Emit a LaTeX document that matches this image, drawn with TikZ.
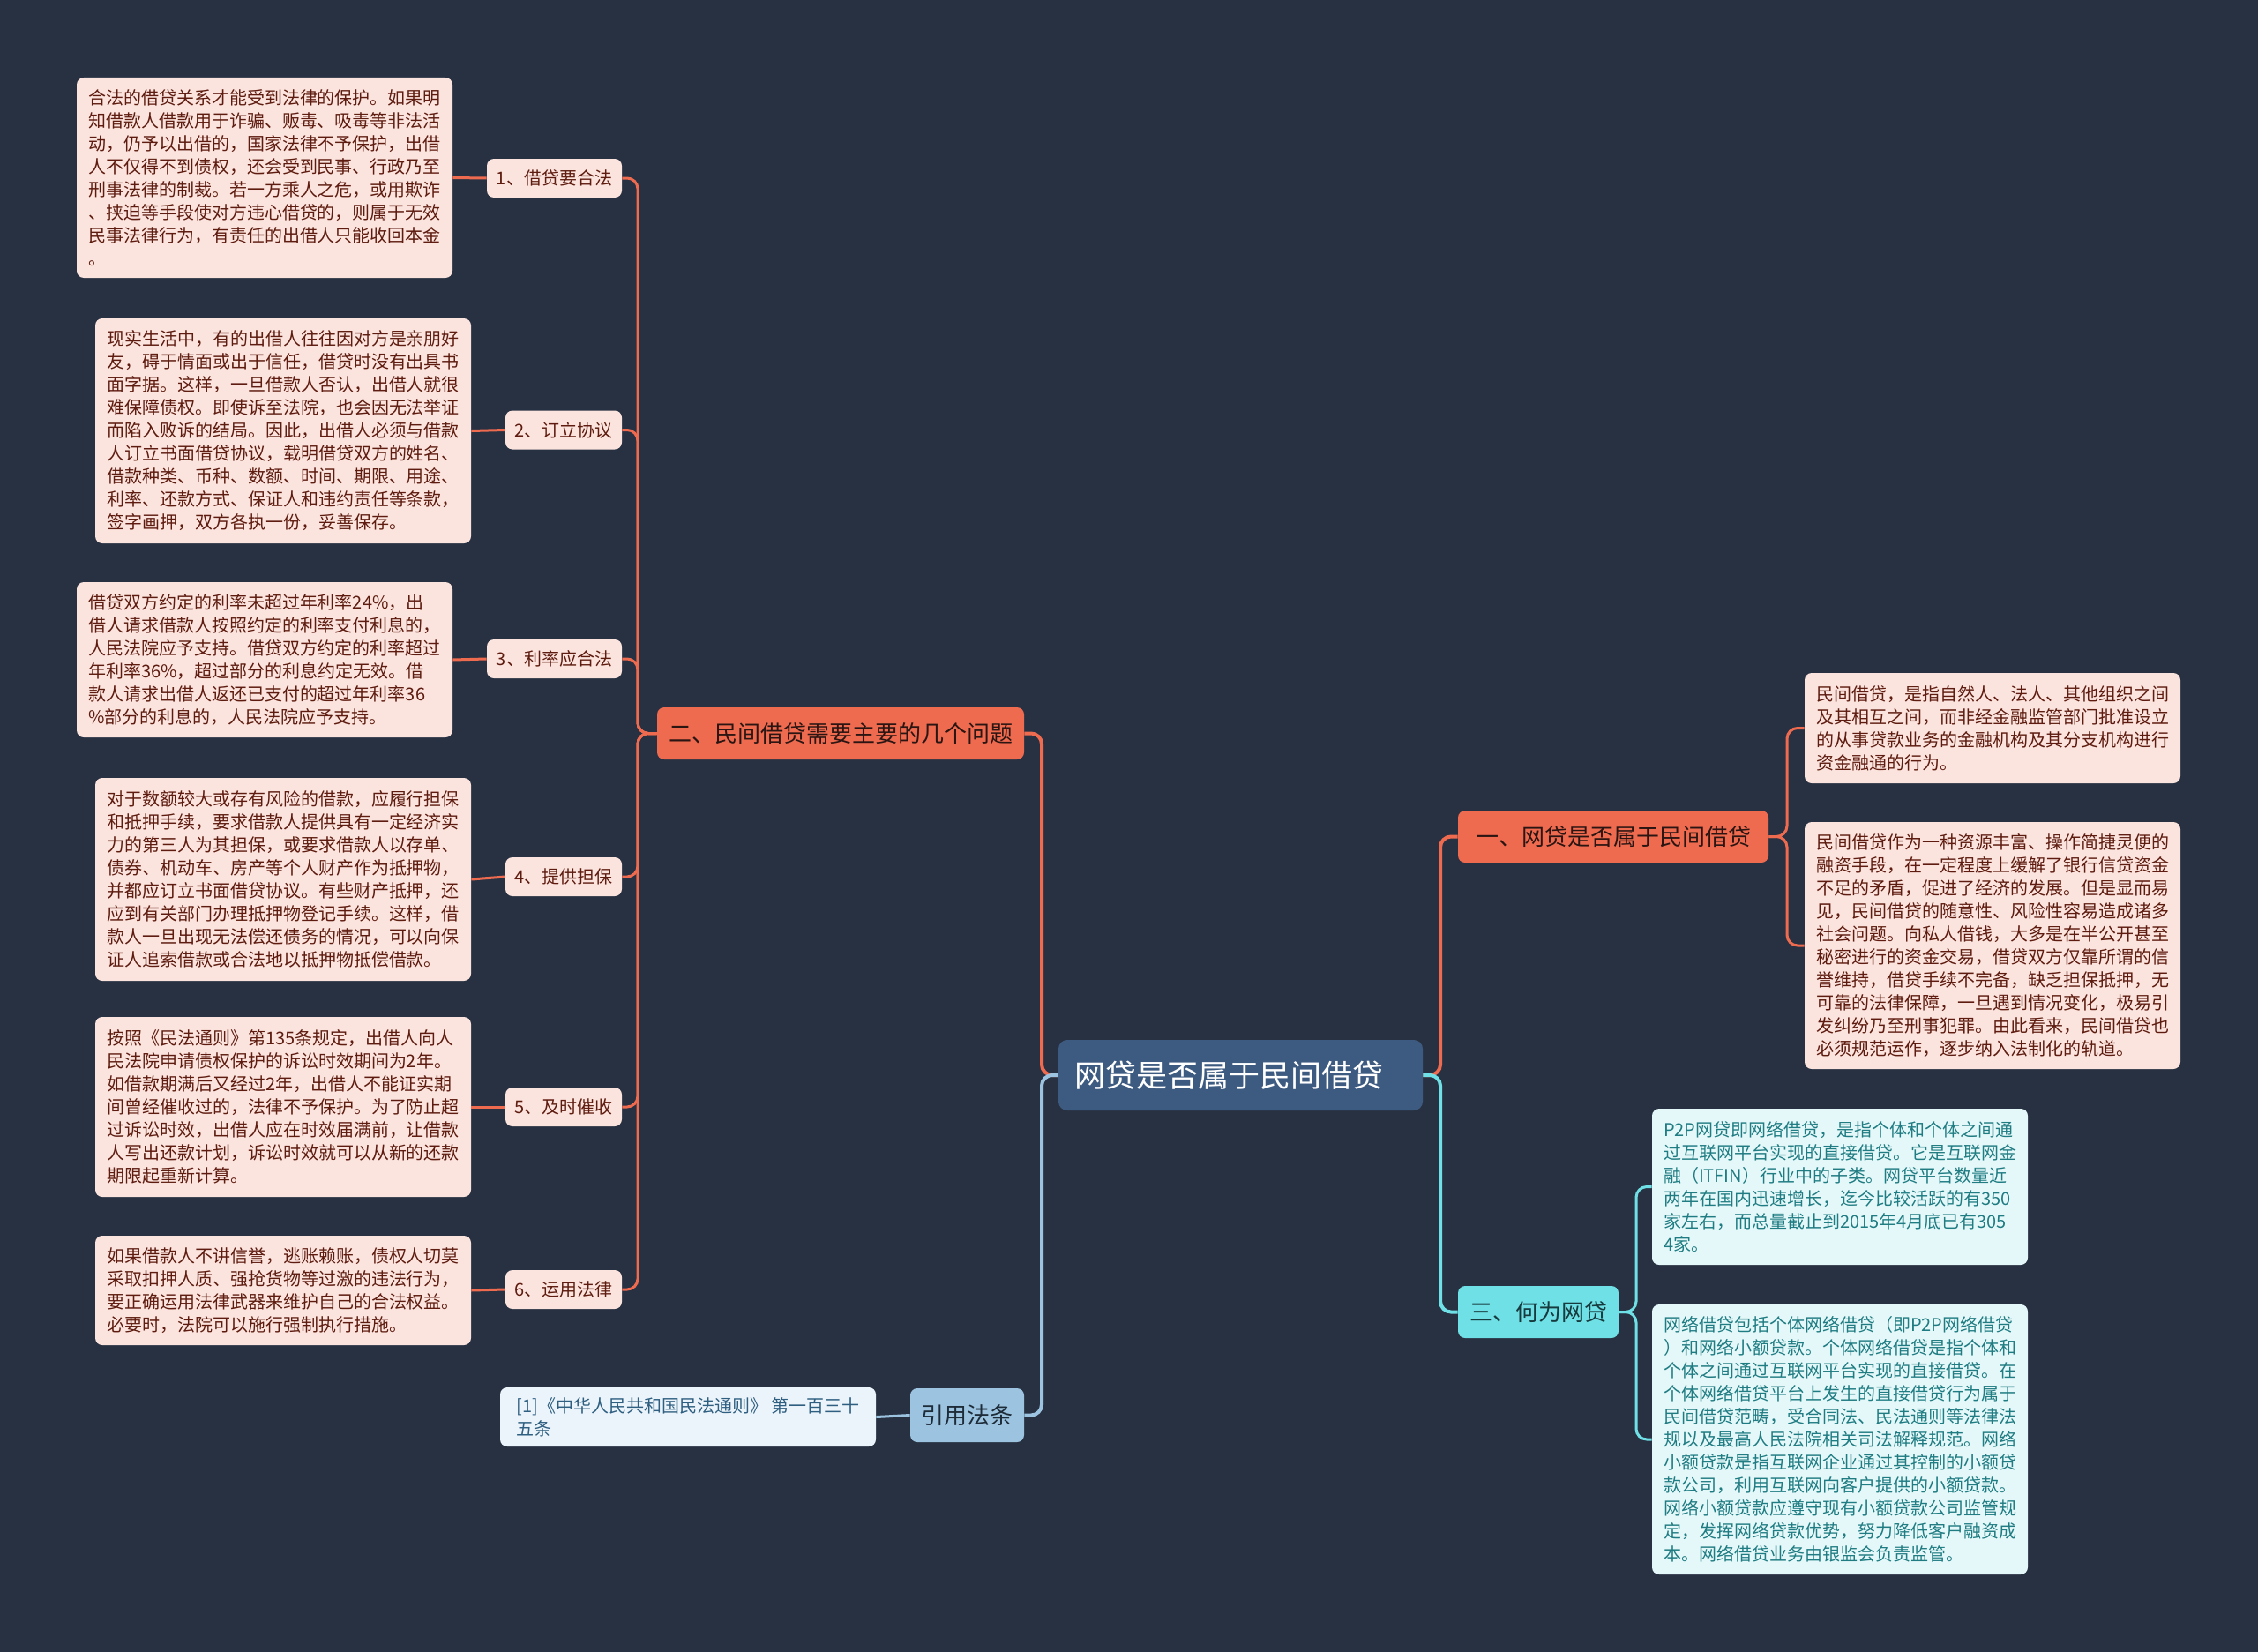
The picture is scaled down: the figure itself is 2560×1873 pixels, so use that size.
\documentclass[tikz,border=0pt]{standalone}
\usepackage{fontspec}
\setmainfont{Noto Sans CJK SC}
\definecolor{bg}{HTML}{283142}
\definecolor{ctr}{HTML}{3D5A80}
\definecolor{org}{HTML}{EE6B50}
\definecolor{pinkfill}{HTML}{FCE4DE}
\definecolor{pinktext}{HTML}{5E1C10}
\definecolor{orgtext}{HTML}{2A1512}
\definecolor{cyn}{HTML}{6FE0E5}
\definecolor{cynfill}{HTML}{E4F8F9}
\definecolor{cyntext}{HTML}{1F7C82}
\definecolor{cyndark}{HTML}{173A3E}
\definecolor{refc}{HTML}{9CC4E0}
\definecolor{reffill}{HTML}{EBF4FA}
\definecolor{reftext}{HTML}{2E5E80}
\definecolor{refdark}{HTML}{1E2B38}
\tikzset{
  leafbase/.style={rounded corners=4pt, minimum width=213pt, inner sep=0pt, align=left,
    font=\fontsize{10pt}{13pt}\selectfont},
  pleaf/.style={leafbase, fill=pinkfill, text=pinktext},
  cleaf/.style={leafbase, fill=cynfill, text=cyntext},
  rleaf/.style={leafbase, fill=reffill, text=reftext},
  subbox/.style={rounded corners=4pt, fill=pinkfill, text=pinktext, inner sep=0pt,
    minimum height=22pt, font=\fontsize{10pt}{12pt}\selectfont},
  branchbox/.style={rounded corners=4pt, inner sep=0pt, minimum height=29.5pt,
    font=\fontsize{13pt}{15pt}\selectfont},
  obranch/.style={branchbox, fill=org, text=orgtext},
  cbranch/.style={branchbox, fill=cyn, text=cyndark},
  rbranch/.style={branchbox, fill=refc, text=refdark},
  centerbox/.style={rounded corners=5pt, inner xsep=9pt, inner ysep=0pt, fill=ctr, text=white,
    text width=188.5pt, align=left, minimum height=40pt, font=\fontsize{17.5pt}{20pt}\selectfont},
  conn/.style={line width=1.5pt, rounded corners=6pt},
  mainconn/.style={line width=2pt, rounded corners=6pt},
}
\begin{document}
\begin{tikzpicture}[x=0.5pt,y=-0.5pt]
\useasboundingbox (0,0) rectangle (2560,1873);
\fill[bg] (0,0) rectangle (2560,1873);

% central
\node[centerbox] (c) at (1406.5,1219) {网贷是否属于民间借贷};

% branches
\node[obranch, minimum width=208pt] (b2) at (953,831.5) {二、民间借贷需要主要的几个问题};
\node[obranch, minimum width=176pt] (b1) at (1829,948.5) {一、网贷是否属于民间借贷};
\node[cbranch, minimum width=91pt] (b3) at (1744,1487.5) {三、何为网贷};
\node[rbranch, minimum width=64.5pt, minimum height=30.5pt] (rf) at (1096.5,1604.5) {引用法条};

% sub nodes of branch 2
\node[subbox, minimum width=76.5pt] (s1) at (628.5,202) {1、借贷要合法};
\node[subbox, minimum width=66pt] (s2) at (639,487.5) {2、订立协议};
\node[subbox, minimum width=76.5pt] (s3) at (628.5,747) {3、利率应合法};
\node[subbox, minimum width=66pt] (s4) at (639,994) {4、提供担保};
\node[subbox, minimum width=66pt] (s5) at (639,1255) {5、及时催收};
\node[subbox, minimum width=66pt] (s6) at (639,1462) {6、运用法律};

% leaves of branch 2
\node[pleaf, minimum height=113.5pt] (l1) at (300,201.5) {合法的借贷关系才能受到法律的保护。如果明\\知借款人借款用于诈骗、贩毒、吸毒等非法活\\动，仍予以出借的，国家法律不予保护，出借\\人不仅得不到债权，还会受到民事、行政乃至\\刑事法律的制裁。若一方乘人之危，或用欺诈\\、挟迫等手段使对方违心借贷的，则属于无效\\民事法律行为，有责任的出借人只能收回本金\\。};
\node[pleaf, minimum height=127.5pt] (l2) at (321,488.5) {现实生活中，有的出借人往往因对方是亲朋好\\友，碍于情面或出于信任，借贷时没有出具书\\面字据。这样，一旦借款人否认，出借人就很\\难保障债权。即使诉至法院，也会因无法举证\\而陷入败诉的结局。因此，出借人必须与借款\\人订立书面借贷协议，载明借贷双方的姓名、\\借款种类、币种、数额、时间、期限、用途、\\利率、还款方式、保证人和违约责任等条款，\\签字画押，双方各执一份，妥善保存。};
\node[pleaf, minimum height=88pt] (l3) at (300,748) {借贷双方约定的利率未超过年利率24\%，出\\借人请求借款人按照约定的利率支付利息的，\\人民法院应予支持。借贷双方约定的利率超过\\年利率36\%，超过部分的利息约定无效。借\\款人请求出借人返还已支付的超过年利率36\\\%部分的利息的，人民法院应予支持。};
\node[pleaf, minimum height=115pt] (l4) at (321,997) {对于数额较大或存有风险的借款，应履行担保\\和抵押手续，要求借款人提供具有一定经济实\\力的第三人为其担保，或要求借款人以存单、\\债券、机动车、房产等个人财产作为抵押物，\\并都应订立书面借贷协议。有些财产抵押，还\\应到有关部门办理抵押物登记手续。这样，借\\款人一旦出现无法偿还债务的情况，可以向保\\证人追索借款或合法地以抵押物抵偿借款。};
\node[pleaf, minimum height=102pt] (l5) at (321,1255) {按照《民法通则》第135条规定，出借人向人\\民法院申请债权保护的诉讼时效期间为2年。\\如借款期满后又经过2年，出借人不能证实期\\间曾经催收过的，法律不予保护。为了防止超\\过诉讼时效，出借人应在时效届满前，让借款\\人写出还款计划，诉讼时效就可以从新的还款\\期限起重新计算。};
\node[pleaf, minimum height=62pt] (l6) at (321,1463) {如果借款人不讲信誉，逃账赖账，债权人切莫\\采取扣押人质、强抢货物等过激的违法行为，\\要正确运用法律武器来维护自己的合法权益。\\必要时，法院可以施行强制执行措施。};

% reference leaf
\node[rleaf, minimum height=33.5pt] (rl) at (780,1606.5) {[1]《中华人民共和国民法通则》 第一百三十\\五条};

% leaves of branch 1
\node[pleaf, minimum height=62.5pt] (la) at (2259,825.5) {民间借贷，是指自然人、法人、其他组织之间\\及其相互之间，而非经金融监管部门批准设立\\的从事贷款业务的金融机构及其分支机构进行\\资金融通的行为。};
\node[pleaf, minimum height=140pt] (lb) at (2259,1072) {民间借贷作为一种资源丰富、操作简捷灵便的\\融资手段，在一定程度上缓解了银行信贷资金\\不足的矛盾，促进了经济的发展。但是显而易\\见，民间借贷的随意性、风险性容易造成诸多\\社会问题。向私人借钱，大多是在半公开甚至\\秘密进行的资金交易，借贷双方仅靠所谓的信\\誉维持，借贷手续不完备，缺乏担保抵押，无\\可靠的法律保障，一旦遇到情况变化，极易引\\发纠纷乃至刑事犯罪。由此看来，民间借贷也\\必须规范运作，逐步纳入法制化的轨道。};

% leaves of branch 3
\node[cleaf, minimum height=88.5pt] (lc) at (2086,1345.5) {P2P网贷即网络借贷，是指个体和个体之间通\\过互联网平台实现的直接借贷。它是互联网金\\融（ITFIN）行业中的子类。网贷平台数量近\\两年在国内迅速增长，迄今比较活跃的有350\\家左右，而总量截止到2015年4月底已有305\\4家。};
\node[cleaf, minimum height=153pt] (ld) at (2086,1632) {网络借贷包括个体网络借贷（即P2P网络借贷\\）和网络小额贷款。个体网络借贷是指个体和\\个体之间通过互联网平台实现的直接借贷。在\\个体网络借贷平台上发生的直接借贷行为属于\\民间借贷范畴，受合同法、民法通则等法律法\\规以及最高人民法院相关司法解释规范。网络\\小额贷款是指互联网企业通过其控制的小额贷\\款公司，利用互联网向客户提供的小额贷款。\\网络小额贷款应遵守现有小额贷款公司监管规\\定，发挥网络贷款优势，努力降低客户融资成\\本。网络借贷业务由银监会负责监管。};

% trunk coordinates
\coordinate (tl) at (1181,1219);
\coordinate (tr) at (1633,1219);
\coordinate (t2) at (723,831.5);
\coordinate (t1) at (2026,948.5);
\coordinate (t3) at (1855,1487.5);

% central connectors
\draw[mainconn, org] (c.west) -- (tl) |- (b2.east);
\draw[mainconn, refc] (c.west) -- (tl) |- (rf.east);
\draw[mainconn, org] (c.east) -- (tr) |- (b1.west);
\draw[mainconn, cyn] (c.east) -- (tr) |- (b3.west);

% branch 2 connectors
\foreach \s in {s1,s2,s3,s4,s5,s6}
  \draw[conn, org] (b2.west) -- (t2) |- (\s.east);
\draw[conn, org] (s1.west) -- (l1.east);
\draw[conn, org] (s2.west) -- (l2.east);
\draw[conn, org] (s3.west) -- (l3.east);
\draw[conn, org] (s4.west) -- (l4.east);
\draw[conn, org] (s5.west) -- (l5.east);
\draw[conn, org] (s6.west) -- (l6.east);

% branch 1 connectors
\draw[conn, org] (b1.east) -- (t1) |- (la.west);
\draw[conn, org] (b1.east) -- (t1) |- (lb.west);

% branch 3 connectors
\draw[conn, cyn] (b3.east) -- (t3) |- (lc.west);
\draw[conn, cyn] (b3.east) -- (t3) |- (ld.west);

% reference connector
\draw[conn, refc] (rf.west) -- (rl.east);
\end{tikzpicture}
\end{document}
